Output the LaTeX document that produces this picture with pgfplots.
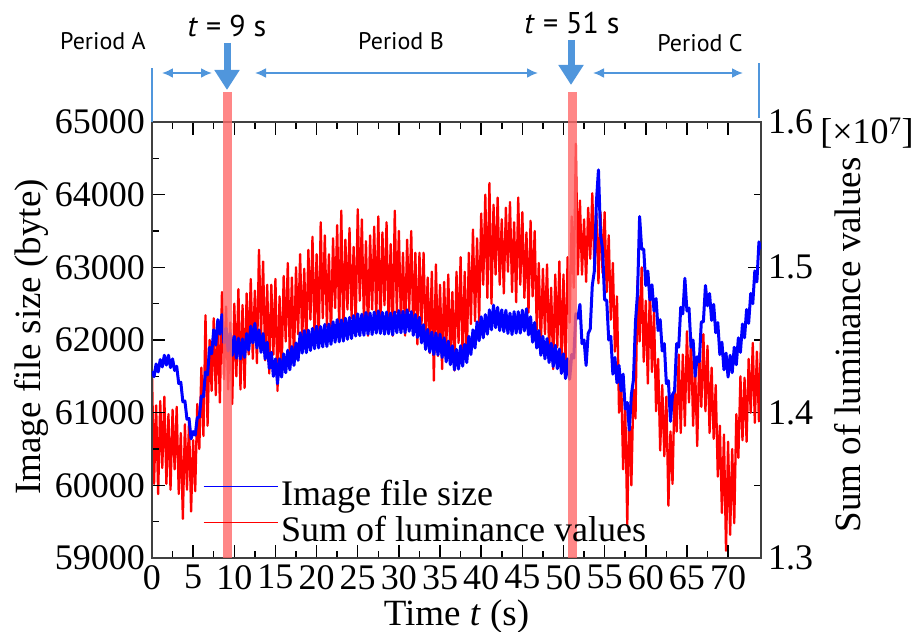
\documentclass[border=0pt]{standalone}
\usepackage{fontspec}
\setmainfont{Liberation Serif}
\newfontfamily\annfont{PT Sans}
\usepackage{pgfplots}
\pgfplotsset{compat=1.18}
\usetikzlibrary{arrows.meta}
\definecolor{annblue}{RGB}{80,150,220}
\definecolor{bandred}{RGB}{255,105,105}
\newcommand{\bigfont}{\fontsize{36}{36}\selectfont}
\newcommand{\labfont}{\fontsize{37}{37}\selectfont}
\newcommand{\annsize}{\annfont\fontsize{24}{24}\selectfont}
\newcommand{\tsize}{\annfont\fontsize{30}{30}\selectfont}

\pgfplotsset{
  common/.style={
    at={(0pt,0pt)}, anchor=south west,
    width=609pt, height=436pt, scale only axis,
    xmin=0, xmax=74,
    tick align=inside,
    major tick length=13pt, minor tick length=7pt,
    every tick/.style={line width=1.5pt, black},
    axis line style={line width=1.6pt, black!75},
    ticklabel style={font=\bigfont, inner sep=7pt},
    /pgf/number format/assume math mode=true,
    scaled ticks=false,
  }
}

\begin{document}
\begin{tikzpicture}
\path[use as bounding box] (-152pt,-74pt) rectangle (764pt,558pt);

% Right axis: sum of luminance values (x 10^7)
\begin{axis}[
  common,
  axis y line*=right, axis x line=none,
  ymin=1.3, ymax=1.6,
  ytick={1.3,1.4,1.5,1.6}, minor y tick num=1,
  yticklabel style={/pgf/number format/.cd, fixed, fixed zerofill, precision=1},
  ylabel={Sum of luminance values},
  every axis y label/.style={at={(axis description cs:1.1642,0.4885)}, anchor=base, rotate=90, font=\labfont},
]
\addplot[red, line width=2.3pt, line join=round] coordinates {
(0,1.427) (0.25,1.351) (0.5,1.405) (0.75,1.344) (1,1.408) (1.25,1.362) (1.5,1.411) (1.75,1.351) (2,1.399) (2.25,1.347) (2.5,1.402) (2.75,1.361) (3,1.404) (3.25,1.344) (3.5,1.386) (3.75,1.327) (4,1.392) (4.25,1.347) (4.5,1.394) (4.75,1.332) (5,1.381) (5.25,1.346) (5.5,1.406) (5.75,1.375) (6,1.431) (6.25,1.384) (6.5,1.467) (6.75,1.391) (7,1.450) (7.25,1.415) (7.5,1.465) (7.75,1.412) (8,1.460) (8.25,1.407) (8.5,1.483) (8.75,1.423) (9,1.473) (9.25,1.416) (9.5,1.462) (9.75,1.406)
(10,1.475) (10.25,1.425) (10.5,1.485) (10.75,1.416) (11,1.474) (11.25,1.417) (11.5,1.482) (11.75,1.440) (12,1.492) (12.25,1.437) (12.5,1.484) (12.75,1.434) (13,1.512) (13.25,1.453) (13.5,1.504) (13.75,1.436) (14,1.488) (14.25,1.427) (14.5,1.488) (14.75,1.440) (15,1.492) (15.25,1.415) (15.5,1.480) (15.75,1.429) (16,1.494) (16.25,1.449) (16.5,1.503) (16.75,1.438) (17,1.493) (17.25,1.435) (17.5,1.500) (17.75,1.454) (18,1.509) (18.25,1.449) (18.5,1.499) (18.75,1.445) (19,1.512) (19.25,1.464) (19.5,1.521) (19.75,1.452)
(20,1.509) (20.25,1.446) (20.5,1.531) (20.75,1.465) (21,1.522) (21.25,1.459) (21.5,1.509) (21.75,1.453) (22,1.520) (22.25,1.472) (22.5,1.529) (22.75,1.458) (23,1.539) (23.25,1.452) (23.5,1.519) (23.75,1.471) (24,1.527) (24.25,1.465) (24.5,1.514) (24.75,1.459) (25,1.540) (25.25,1.477) (25.5,1.533) (25.75,1.462) (26,1.518) (26.25,1.453) (26.5,1.522) (26.75,1.471) (27,1.528) (27.25,1.463) (27.5,1.535) (27.75,1.456) (28,1.524) (28.25,1.474) (28.5,1.531) (28.75,1.459) (29,1.516) (29.25,1.453) (29.5,1.539) (29.75,1.469)
(30,1.525) (30.25,1.462) (30.5,1.510) (30.75,1.453) (31,1.519) (31.25,1.470) (31.5,1.525) (31.75,1.455) (32,1.510) (32.25,1.447) (32.5,1.510) (32.75,1.461) (33,1.510) (33.25,1.450) (33.5,1.493) (33.75,1.441) (34,1.497) (34.25,1.422) (34.5,1.502) (34.75,1.439) (35,1.488) (35.25,1.430) (35.5,1.490) (35.75,1.443) (36,1.495) (36.25,1.436) (36.5,1.483) (36.75,1.429) (37,1.497) (37.25,1.448) (37.5,1.507) (37.75,1.435) (38,1.497) (38.25,1.435) (38.5,1.510) (38.75,1.461) (39,1.526) (39.25,1.463) (39.5,1.520) (39.75,1.462)
(40,1.537) (40.25,1.488) (40.5,1.550) (40.75,1.479) (41,1.558) (41.25,1.475) (41.5,1.543) (41.75,1.495) (42,1.548) (42.25,1.488) (42.5,1.533) (42.75,1.482) (43,1.541) (43.25,1.497) (43.5,1.545) (43.75,1.483) (44,1.531) (44.25,1.476) (44.5,1.548) (44.75,1.488) (45,1.538) (45.25,1.479) (45.5,1.524) (45.75,1.469) (46,1.532) (46.25,1.480) (46.5,1.525) (46.75,1.457) (47,1.503) (47.25,1.445) (47.5,1.499) (47.75,1.454) (48,1.502) (48.25,1.442) (48.5,1.486) (48.75,1.430) (49,1.495) (49.25,1.445) (49.5,1.504) (49.75,1.433)
(50,1.495) (50.25,1.426) (50.5,1.507) (50.75,1.462) (51,1.535) (51.25,1.486) (51.5,1.585) (51.75,1.495) (52,1.546) (52.25,1.495) (52.5,1.533) (52.75,1.490) (53,1.541) (53.25,1.506) (53.5,1.551) (53.75,1.501) (54,1.537) (54.25,1.489) (54.5,1.538) (54.75,1.496) (55,1.538) (55.25,1.483) (55.5,1.522) (55.75,1.464) (56,1.503) (56.25,1.442) (56.5,1.480) (56.75,1.400) (57,1.426) (57.25,1.361) (57.5,1.406) (57.75,1.323) (58,1.405) (58.25,1.350) (58.5,1.416) (58.75,1.396) (59,1.491) (59.25,1.449) (59.5,1.500) (59.75,1.435)
(60,1.477) (60.25,1.420) (60.5,1.487) (60.75,1.428) (61,1.470) (61.25,1.401) (61.5,1.437) (61.75,1.374) (62,1.419) (62.25,1.370) (62.5,1.411) (62.75,1.336) (63,1.387) (63.25,1.351) (63.5,1.417) (63.75,1.387) (64,1.440) (64.25,1.386) (64.5,1.440) (64.75,1.391) (65,1.456) (65.25,1.407) (65.5,1.452) (65.75,1.391) (66,1.430) (66.25,1.377) (66.5,1.440) (66.75,1.404) (67,1.454) (67.25,1.401) (67.5,1.446) (67.75,1.386) (68,1.431) (68.25,1.382) (68.5,1.419) (68.75,1.356) (69,1.391) (69.25,1.331) (69.5,1.385) (69.75,1.305)
(70,1.380) (70.25,1.316) (70.5,1.375) (70.75,1.324) (71,1.399) (71.25,1.369) (71.5,1.425) (71.75,1.381) (72,1.424) (72.25,1.380) (72.5,1.437) (72.75,1.400) (73,1.448) (73.25,1.393) (73.5,1.442) (73.75,1.394) (74,1.451)
};
\end{axis}

% Left axis: image file size
\begin{axis}[
  common,
  clip mode=individual,
  ymin=59000, ymax=65000,
  xtick={0,5,...,70}, ytick={59000,60000,...,65000},
  minor x tick num=1, minor y tick num=1,
  ytick pos=left,
  yticklabel style={/pgf/number format/.cd, fixed, 1000 sep={}},
  xlabel={Time \textit{t} (s)},
  ylabel={Image file size (byte)},
  every axis x label/.style={at={(axis description cs:0.5,-0.1537)}, anchor=base, font=\labfont},
  every axis y label/.style={at={(axis description cs:-0.1839,0.507)}, anchor=base, rotate=90, font=\labfont},
  legend style={at={(axis description cs:0.0837,0.1835)}, anchor=north west,
    draw=none, fill=none, inner sep=0pt, font=\bigfont,
    nodes={text height=27pt, text depth=9pt, inner sep=0pt},
    column sep=3pt},
  legend cell align=left,
  legend image code/.code={\draw[#1, line width=0.9pt] (0pt,10pt) -- (74pt,10pt);},
]
\addplot[blue, line width=3pt, line join=round] coordinates {
(0,61570) (0.25,61495) (0.5,61670) (0.75,61560) (1,61730) (1.25,61630) (1.5,61790) (1.75,61655) (2,61790) (2.25,61620) (2.5,61740) (2.75,61580) (3,61640) (3.25,61400) (3.5,61420) (3.75,61150) (4,61160) (4.25,60910) (4.5,60920) (4.75,60640) (5,60740) (5.25,60690) (5.5,60930) (5.75,60940) (6,61230) (6.25,61220) (6.5,61560) (6.75,61520) (7,61900) (7.25,61810) (7.5,62140) (7.75,61930) (8,62280) (8.25,62080) (8.5,62350) (8.75,61960) (9,62160) (9.25,61850) (9.5,62090) (9.75,61790)
(10,62050) (10.25,61750) (10.5,62025) (10.75,61740) (11,62015) (11.25,61760) (11.5,62090) (11.75,61860) (12,62190) (12.25,61960) (12.5,62230) (12.75,61890) (13,62140) (13.25,61830) (13.5,62090) (13.75,61740) (14,61970) (14.25,61610) (14.5,61830) (14.75,61500) (15,61740) (15.25,61400) (15.5,61740) (15.75,61490) (16,61810) (16.25,61550) (16.5,61860) (16.75,61590) (17,61910) (17.25,61650) (17.5,61960) (17.75,61720) (18,62100) (18.25,61820) (18.5,62130) (18.75,61825) (19,62135) (19.25,61855) (19.5,62160) (19.75,61880)
(20,62190) (20.25,61890) (20.5,62185) (20.75,61905) (21,62215) (21.25,61910) (21.5,62220) (21.75,61940) (22,62250) (22.25,61970) (22.5,62280) (22.75,61975) (23,62275) (23.25,61985) (23.5,62300) (23.75,62010) (24,62310) (24.25,62020) (24.5,62335) (24.75,62055) (25,62360) (25.25,62060) (25.5,62355) (25.75,62065) (26,62380) (26.25,62080) (26.5,62370) (26.75,62075) (27,62385) (27.25,62095) (27.5,62400) (27.75,62090) (28,62380) (28.25,62080) (28.5,62385) (28.75,62085) (29,62370) (29.25,62070) (29.5,62385) (29.75,62100)
(30,62405) (30.25,62100) (30.5,62395) (30.75,62100) (31,62415) (31.25,62120) (31.5,62390) (31.75,62065) (32,62350) (32.25,62035) (32.5,62310) (32.75,61960) (33,62210) (33.25,61870) (33.5,62145) (33.75,61835) (34,62110) (34.25,61800) (34.5,62095) (34.75,61795) (35,62080) (35.25,61760) (35.5,62030) (35.75,61700) (36,61985) (36.25,61660) (36.5,61920) (36.75,61590) (37,61870) (37.25,61600) (37.5,61920) (37.75,61640) (38,61940) (38.25,61690) (38.5,62050) (38.75,61800) (39,62140) (39.25,61890) (39.5,62250) (39.75,61990)
(40,62320) (40.25,62030) (40.5,62350) (40.75,62080) (41,62415) (41.25,62140) (41.5,62480) (41.75,62170) (42,62450) (42.25,62130) (42.5,62415) (42.75,62115) (43,62410) (43.25,62090) (43.5,62370) (43.75,62075) (44,62390) (44.25,62095) (44.5,62390) (44.75,62095) (45,62410) (45.25,62125) (45.5,62430) (45.75,62070) (46,62320) (46.25,61970) (46.5,62240) (46.75,61890) (47,62130) (47.25,61790) (47.5,62050) (47.75,61740) (48,62020) (48.25,61690) (48.5,61955) (48.75,61635) (49,61925) (49.25,61605) (49.5,61875) (49.75,61540)
(50,61810) (50.25,61470) (50.5,61740) (50.75,61460) (51,61800) (51.25,61750) (51.5,62360) (51.75,62300) (52,62490) (52.25,61950) (52.5,62000) (52.75,61650) (53,62090) (53.25,62150) (53.5,62750) (53.75,62950) (54,63900) (54.25,64340) (54.5,63450) (54.75,63250) (55,62550) (55.25,62550) (55.5,62000) (55.75,62050) (56,61530) (56.25,61760) (56.5,61410) (56.75,61650) (57,61300) (57.25,61530) (57.5,61050) (57.75,61140) (58,60760) (58.25,61250) (58.5,61450) (58.75,62250) (59,62650) (59.25,63700) (59.5,63250) (59.75,63250)
(60,62750) (60.25,62950) (60.5,62550) (60.75,62760) (61,62400) (61.25,62570) (61.5,62130) (61.75,62280) (62,61850) (62.25,61950) (62.5,61400) (62.75,61440) (63,60880) (63.25,61250) (63.5,61300) (63.75,61950) (64,61900) (64.25,62450) (64.5,62360) (64.75,62850) (65,62400) (65.25,62440) (65.5,61900) (65.75,62000) (66,61500) (66.25,61770) (66.5,61700) (66.75,62250) (67,62250) (67.25,62750) (67.5,62470) (67.75,62640) (68,62270) (68.25,62490) (68.5,62100) (68.75,62240) (69,61800) (69.25,61970) (69.5,61590) (69.75,61820)
(70,61490) (70.25,61790) (70.5,61550) (70.75,61900) (71,61660) (71.25,62030) (71.5,61830) (71.75,62220) (72,62030) (72.25,62420) (72.5,62230) (72.75,62640) (73,62500) (73.25,62950) (73.5,62800) (73.75,63350) (74,63250)
};
\addlegendentry{Image file size}
\addlegendimage{red}
\addlegendentry{Sum of luminance values}
% highlighted instants t = 9 s and t = 51 s
\fill[bandred, opacity=0.8] (axis cs:8.65,59000) rectangle (axis cs:9.75,65413);
\fill[bandred, opacity=0.8] (axis cs:50.55,59000) rectangle (axis cs:51.65,65413);
\end{axis}

% multiplier of the right axis
\node[font=\bigfont, anchor=center] at (715pt,425pt) {[\texttimes10\textsuperscript{7}]};

% period annotations
\draw[annblue, line width=2pt] (0pt,436pt) -- (0pt,490pt);
\draw[annblue, line width=2pt] (607pt,440pt) -- (607pt,495pt);
\draw[annblue, line width=2pt, {Latex[length=11pt,width=10pt]}-{Latex[length=11pt,width=10pt]}] (10pt,485pt) -- (60pt,485pt);
\draw[annblue, line width=2pt, {Latex[length=11pt,width=10pt]}-{Latex[length=11pt,width=10pt]}] (103pt,485pt) -- (386pt,485pt);
\draw[annblue, line width=2pt, {Latex[length=11pt,width=10pt]}-{Latex[length=11pt,width=10pt]}] (441pt,485pt) -- (591pt,485pt);
\draw[annblue, line width=7pt, -{Triangle[length=20pt,width=24pt]}] (75pt,515pt) -- (75pt,468pt);
\draw[annblue, line width=7pt, -{Triangle[length=20pt,width=24pt]}] (419pt,518pt) -- (419pt,473pt);
\node[font=\annsize, anchor=base] at (-49pt,508pt) {Period A};
\node[font=\annsize, anchor=base] at (249pt,508pt) {Period B};
\node[font=\annsize, anchor=base] at (548pt,506pt) {Period C};
\node[font=\tsize, anchor=base] at (75pt,521pt) {\textit{t} = 9 s};
\node[font=\tsize, anchor=base] at (420pt,524pt) {\textit{t} = 51 s};
\end{tikzpicture}
\end{document}
